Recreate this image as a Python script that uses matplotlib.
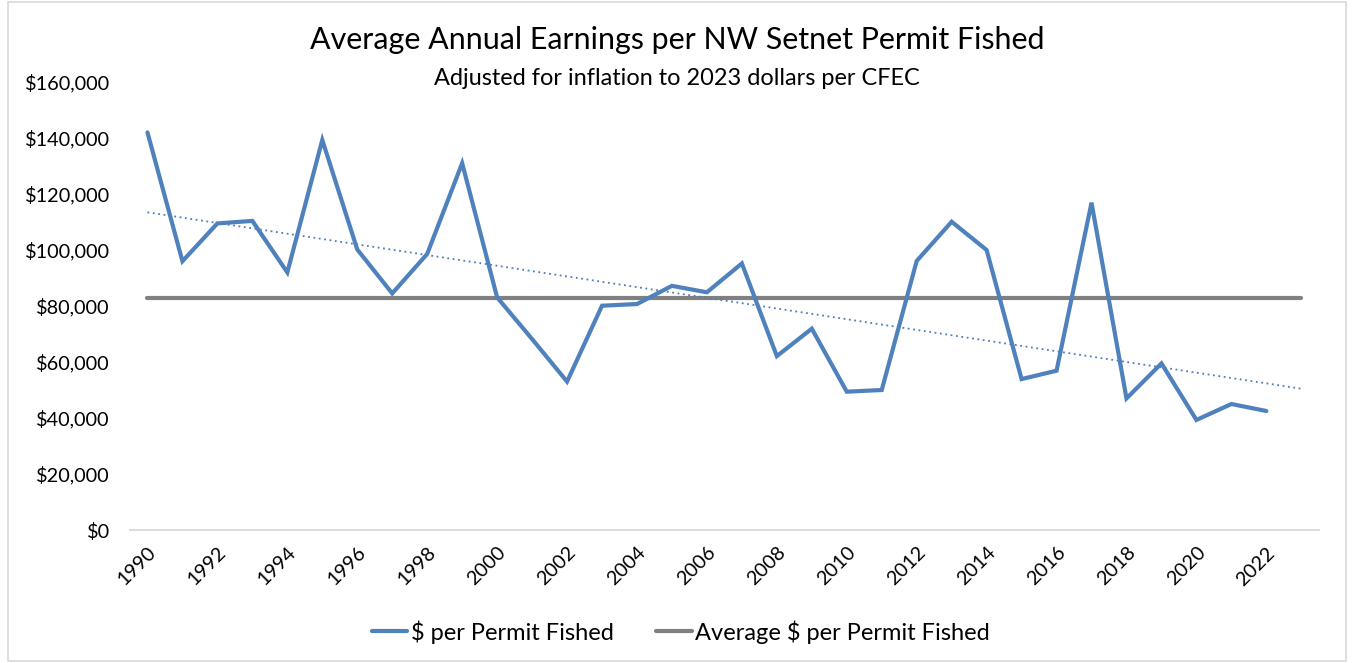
import matplotlib.pyplot as plt
import numpy as np
from matplotlib.ticker import FuncFormatter
from matplotlib.patches import Rectangle

years = list(range(1990, 2023))
earnings = [
    142000, 96000, 109500, 110400, 92000, 139300, 100200, 84500, 98600, 131000,
    83100, 68200, 53000, 80100, 80700, 87200, 84900, 95200, 62100, 71900,
    49400, 50000, 96100, 110100, 100000, 53900, 56900, 116900, 47000, 59500,
    39300, 45000, 42500
]
# the average line and trendline run one slot further, to 2023
line_years = list(range(1990, 2024))
tick_years = list(range(1990, 2023, 2))

plt.rcParams['font.family'] = ['Lato', 'DejaVu Sans']

fig = plt.figure(figsize=(13.54, 6.63), dpi=100)
fig.patches.append(Rectangle((0.006, 0.003), 0.988, 0.994, transform=fig.transFigure,
                             fill=False, edgecolor='#d9d9d9', linewidth=1.2))
ax = fig.add_axes([0.096, 0.2006, 0.878, 0.6757])

avg = np.mean(earnings)
coef = np.polyfit(years, earnings, 1)
trend = np.polyval(coef, line_years)

ax.plot(line_years, [avg] * len(line_years), color='#808080', linewidth=3,
        solid_capstyle='round', label='Average $ per Permit Fished', zorder=2)
ax.plot(line_years, trend, color='#4a7ebb', linewidth=1.3, linestyle=(0, (1, 2)),
        zorder=3)
ax.plot(years, earnings, color='#4f81bd', linewidth=3, solid_joinstyle='miter',
        solid_capstyle='round', label='$ per Permit Fished', zorder=4)

ax.set_xlim(1989.5, 2023.5)
ax.set_ylim(0, 160000)
ax.set_yticks(range(0, 160001, 20000))
ax.yaxis.set_major_formatter(FuncFormatter(lambda v, p: f'${v:,.0f}'))
ax.set_xticks(tick_years)
ax.set_xticklabels([str(y) for y in tick_years], rotation=45, ha='right',
                   rotation_mode='anchor')
ax.tick_params(axis='both', length=0, labelsize=14.3, colors='#000000')
ax.tick_params(axis='y', pad=14.5)
ax.tick_params(axis='x', pad=10)

for s in ['top', 'right', 'left']:
    ax.spines[s].set_visible(False)
ax.spines['bottom'].set_color('#d9d9d9')
ax.spines['bottom'].set_linewidth(1.3)

fig.text(0.5, 0.940, 'Average Annual Earnings per NW Setnet Permit Fished',
         ha='center', va='center', fontsize=21.9)
fig.text(0.5, 0.881, 'Adjusted for inflation to 2023 dollars per CFEC',
         ha='center', va='center', fontsize=16.9)

handles, labels = ax.get_legend_handles_labels()
fig.legend(handles[::-1], labels[::-1], loc='center', bbox_to_anchor=(0.503, 0.047),
           ncol=2, frameon=False, fontsize=17, handlelength=1.5, handletextpad=0.15,
           columnspacing=1.8)

fig.savefig('out.png', dpi=100)
